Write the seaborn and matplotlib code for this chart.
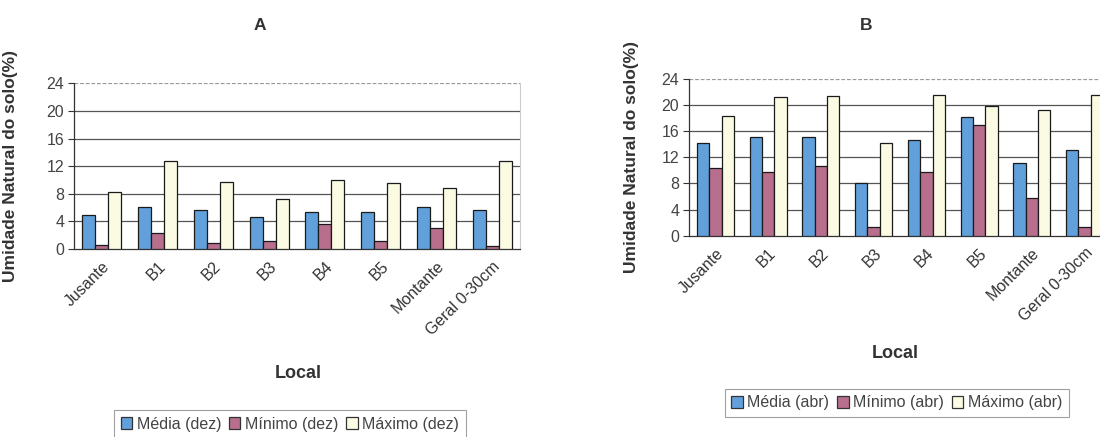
import numpy as np
import pandas as pd
import matplotlib
matplotlib.use("Agg")
import matplotlib.pyplot as plt
from matplotlib.patches import Patch
import seaborn as sns

locais = ["Jusante", "B1", "B2", "B3", "B4", "B5", "Montante", "Geral 0-30cm"]

# Dezembro
media_dez = [4.9, 6.1, 5.6, 4.7, 5.3, 5.3, 6.1, 5.6]
minimo_dez = [0.6, 2.3, 0.9, 1.1, 3.6, 1.2, 3.1, 0.5]
maximo_dez = [8.3, 12.7, 9.7, 7.2, 10.0, 9.5, 8.8, 12.7]

# Abril
media_abr = [14.2, 15.1, 15.1, 8.0, 14.7, 18.2, 11.2, 13.2]
minimo_abr = [10.4, 9.7, 10.6, 1.4, 9.7, 16.9, 5.8, 1.4]
maximo_abr = [18.3, 21.3, 21.4, 14.2, 21.6, 19.9, 19.2, 21.6]

series_dez = ["Média (dez)", "Mínimo (dez)", "Máximo (dez)"]
series_abr = ["Média (abr)", "Mínimo (abr)", "Máximo (abr)"]

cores = ["#62a0dc", "#b86f8e", "#fbfbe4"]

sns.set_theme(style="white")
plt.rcParams["font.family"] = ["Liberation Sans", "DejaVu Sans"]


def long_form(nomes, valores):
    linhas = []
    for nome, vals in zip(nomes, valores):
        for loc, v in zip(locais, vals):
            linhas.append({"Local": loc, "serie": nome, "valor": v})
    return pd.DataFrame(linhas)


df_dez = long_form(series_dez, [media_dez, minimo_dez, maximo_dez])
df_abr = long_form(series_abr, [media_abr, minimo_abr, maximo_abr])

fig = plt.figure(figsize=(11, 4.37), dpi=100)
fig.patch.set_facecolor("white")

W, H = 1100.0, 437.0


def axes_px(left, right, top, bottom):
    return fig.add_axes([left / W, 1 - bottom / H, (right - left) / W, (bottom - top) / H])


ax_a = axes_px(74, 520, 83.3, 249)
ax_b = axes_px(689, 1111, 79, 235.7)


def draw(ax, df, nomes, ylabel_x):
    sns.barplot(data=df, x="Local", y="valor", hue="serie", hue_order=nomes,
                order=locais, palette=cores, width=0.7, edgecolor="#1a1a1a",
                linewidth=0.9, saturation=1, legend=False, ax=ax, zorder=3)
    ax.set_xlim(-0.5, len(locais) - 0.5)
    ax.set_ylim(0, 24)
    yt = np.arange(0, 25, 4)
    ax.set_yticks(yt)
    ax.set_yticklabels([str(v) for v in yt], fontsize=11.5, color="#444444")
    for v in yt[1:-1]:
        ax.axhline(v, color="#555555", lw=0.9, zorder=1)
    ax.axhline(24, color="#999999", lw=0.9, ls=(0, (3, 1.5)), zorder=1)
    ax.set_xticks(range(len(locais)))
    ax.set_xticklabels(locais, rotation=45, ha="right", rotation_mode="anchor",
                       fontsize=11.5, color="#333333")
    ax.set_xticks(np.arange(-0.5, len(locais)), minor=True)
    ax.tick_params(axis="x", which="major", length=0, pad=7)
    ax.tick_params(axis="x", which="minor", length=4, width=0.8, color="#333333", direction="out")
    ax.tick_params(axis="y", length=4, width=0.8, color="#333333", direction="out", left=True, pad=3)
    ax.set_xlabel("")
    ax.set_ylabel("Umidade Natural do solo(%)", fontsize=12.5, fontweight="bold", color="#333333")
    ax.yaxis.set_label_coords(ylabel_x, 0.5)
    for side in ["left", "bottom"]:
        ax.spines[side].set_color("#333333")
        ax.spines[side].set_linewidth(0.9)
    ax.spines["top"].set_visible(False)
    ax.spines["right"].set_color("#cccccc")
    ax.spines["right"].set_linewidth(0.8)
    ax.set_facecolor("white")


draw(ax_a, df_dez, series_dez, -0.1256)
draw(ax_b, df_abr, series_abr, -0.118)

fig.text(260 / W, 1 - 26 / H, "A", ha="center", va="center", fontsize=12.5,
         fontweight="bold", color="#333333")
fig.text(866 / W, 1 - 26 / H, "B", ha="center", va="center", fontsize=12.5,
         fontweight="bold", color="#333333")
fig.text(298 / W, 1 - 373 / H, "Local", ha="center", va="center", fontsize=13,
         fontweight="bold", color="#333333")
fig.text(895 / W, 1 - 353 / H, "Local", ha="center", va="center", fontsize=13,
         fontweight="bold", color="#333333")


def legenda(nomes, cx, cy):
    handles = [Patch(facecolor=c, edgecolor="#333333", linewidth=0.9, label=n)
               for c, n in zip(cores, nomes)]
    leg = fig.legend(handles=handles, loc="center", bbox_to_anchor=(cx / W, 1 - cy / H),
                     ncol=3, fontsize=11.5, frameon=True, fancybox=False,
                     handlelength=0.7, handleheight=0.7, handletextpad=0.3,
                     columnspacing=0.5, borderpad=0.4, labelcolor="#444444")
    leg.get_frame().set_edgecolor("#888888")
    leg.get_frame().set_linewidth(0.8)


legenda(series_dez, 290, 424)
legenda(series_abr, 897, 403)

fig.savefig("out.png", dpi=100, facecolor="white")
